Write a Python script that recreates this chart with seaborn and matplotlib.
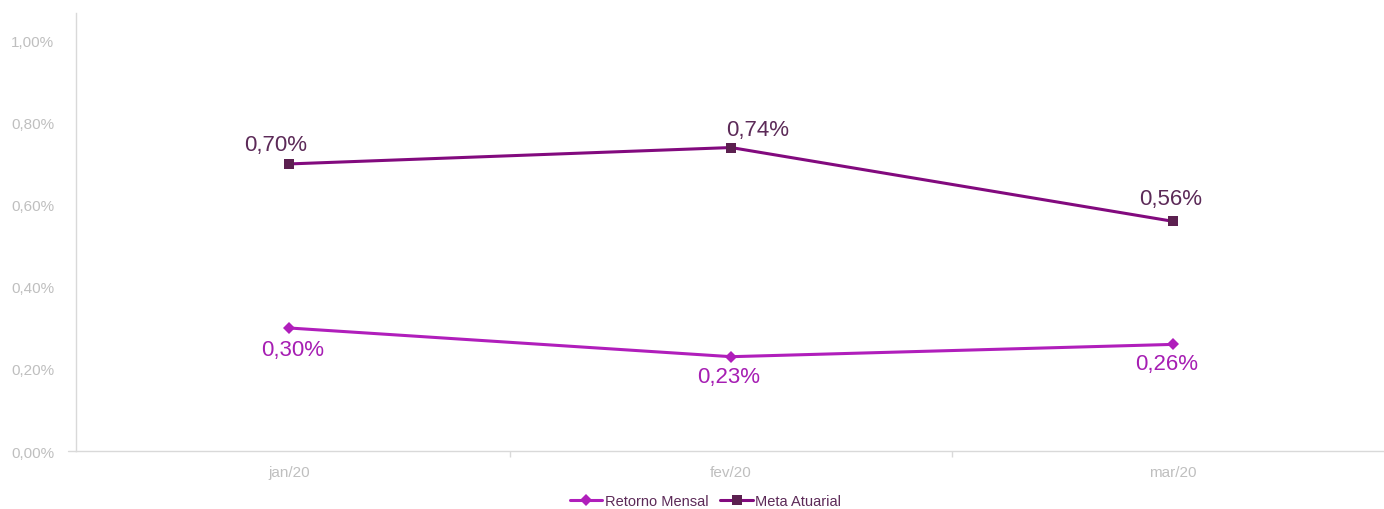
import matplotlib.pyplot as plt
import pandas as pd
import seaborn as sns

months = ['jan/20', 'fev/20', 'mar/20']
retorno_mensal = [0.30, 0.23, 0.26]
meta_atuarial = [0.70, 0.74, 0.56]

# label offsets in pixels (dx, dy)
meta_offsets = [(-13, 19), (27, 18), (-3, 23)]
retorno_offsets = [(4, -22), (-2, -20), (-7, -19)]

sns.set_style("white")
plt.rcParams['font.family'] = ['Liberation Sans', 'DejaVu Sans']

df = pd.DataFrame({
    'month': months * 2,
    'value': retorno_mensal + meta_atuarial,
    'serie': ['Retorno Mensal'] * 3 + ['Meta Atuarial'] * 3,
})

fig = plt.figure(figsize=(13.84, 5.10), dpi=100)
ax = fig.add_axes([0.0549, 0.1137, 0.9451, 0.8588])

c_ret = '#b01ebb'
c_meta_line = '#820a7e'
c_meta_mark = '#5c2050'

sns.lineplot(data=df[df.serie == 'Retorno Mensal'], x='month', y='value',
             color=c_ret, lw=2.2, marker='D', markersize=6.5,
             markeredgewidth=0, ax=ax, label='Retorno Mensal')
sns.lineplot(data=df[df.serie == 'Meta Atuarial'], x='month', y='value',
             color=c_meta_line, lw=2.2, marker='s', markersize=7,
             markerfacecolor=c_meta_mark, markeredgewidth=0, ax=ax,
             label='Meta Atuarial')

px = 0.72
for i, (v, off) in enumerate(zip(meta_atuarial, meta_offsets)):
    ax.annotate(f'{v:.2f}%'.replace('.', ','), (i, v),
                xytext=(off[0] * px, off[1] * px), textcoords='offset points',
                ha='center', va='center', fontsize=16, color='#5c2a58')
for i, (v, off) in enumerate(zip(retorno_mensal, retorno_offsets)):
    ax.annotate(f'{v:.2f}%'.replace('.', ','), (i, v),
                xytext=(off[0] * px, off[1] * px), textcoords='offset points',
                ha='center', va='center', fontsize=16, color='#a61eb3')

ax.set_xlim(-0.482, 2.477)
ax.set_ylim(0, 1.068)
ax.set_yticks([0, 0.2, 0.4, 0.6, 0.8, 1.0])
ax.set_yticklabels([f'{t:.2f}%'.replace('.', ',') for t in [0, 0.2, 0.4, 0.6, 0.8, 1.0]])
ax.set_xticks([0.5, 1.5], minor=True)
ax.tick_params(axis='x', which='both', bottom=True)
ax.tick_params(axis='x', which='major', length=0, pad=10, labelsize=11, colors='#bfbfbf')
ax.tick_params(axis='x', which='minor', length=4, width=1, color='#d9d9d9', direction='out')
ax.tick_params(axis='y', length=0, labelsize=11, colors='#bfbfbf', pad=15.5)
ax.set_xlabel('')
ax.set_ylabel('')
for s in ['top', 'right']:
    ax.spines[s].set_visible(False)
for s in ['left', 'bottom']:
    ax.spines[s].set_color('#d9d9d9')
    ax.spines[s].set_linewidth(1)
ax.plot([-0.5, -0.482], [0, 0], color='#d9d9d9', lw=1, clip_on=False)

ax.get_legend().remove()
handles, labels = ax.get_legend_handles_labels()
leg = fig.legend(handles, labels, loc='center', bbox_to_anchor=(0.51, 0.016),
                 ncol=2, frameon=False, fontsize=10.5, handlelength=2.2,
                 columnspacing=0.8, handletextpad=0.2)
for t in leg.get_texts():
    t.set_color('#5c2a58')

fig.savefig('out.png', dpi=100)
